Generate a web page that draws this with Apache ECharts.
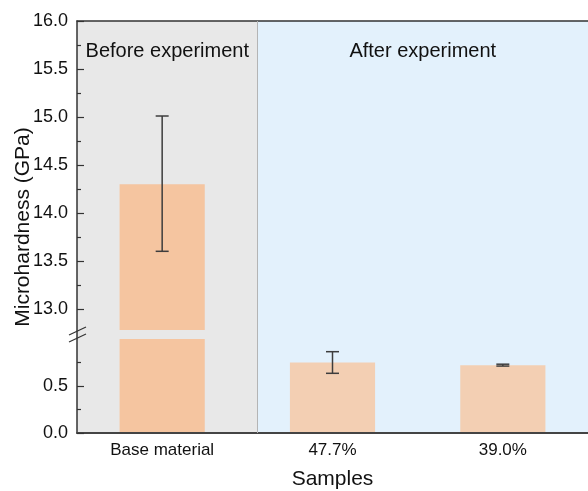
<!DOCTYPE html>
<html>
<head>
<meta charset="utf-8">
<script src="https://cdn.jsdelivr.net/npm/echarts@6/dist/echarts.min.js"></script>
<style>
  html, body { margin: 0; padding: 0; background: #fff; }
  #main { width: 588px; height: 491px; }
</style>
</head>
<body>
<div id="main"></div>
<script>
// data
var categories = ['Base material', '47.7%', '39.0%'];
var hardness = [14.3, 0.75, 0.72];
var errLow = [13.6, 0.635, 0.712];
var errHigh = [15.01, 0.865, 0.732];
var upperTicks = [13.0, 13.5, 14.0, 14.5, 15.0, 15.5, 16.0];
var upperMinor = [13.25, 13.75, 14.25, 14.75, 15.25, 15.75];
var lowerTicks = [0.0, 0.5];
var lowerMinor = [0.25, 0.75];
var regionNames = ['Before experiment', 'After experiment'];
var regionSplit = 0.56; // divider, in category units

var upperMin = 12.78, upperMax = 16.0;
var lowerMin = 0, lowerMax = 1.0;

var font = 'Liberation Sans, Arial, sans-serif';
var axisColor = '#333';
var textColor = '#111';

var chart = echarts.init(document.getElementById('main'));

function errRender(params, api) {
  var x = api.value(0);
  var lo = api.coord([x, api.value(1)]);
  var hi = api.coord([x, api.value(2)]);
  var w = 6.5;
  var st = { stroke: '#3d3d3d', lineWidth: 1.5 };
  return {
    type: 'group',
    children: [
      { type: 'line', shape: { x1: lo[0], y1: lo[1], x2: hi[0], y2: hi[1] }, style: st },
      { type: 'line', shape: { x1: lo[0] - w, y1: lo[1], x2: lo[0] + w, y2: lo[1] }, style: st },
      { type: 'line', shape: { x1: hi[0] - w, y1: hi[1], x2: hi[0] + w, y2: hi[1] }, style: st }
    ]
  };
}

var barColors = ['#f5c5a0', '#f3cfb3', '#f3cfb3'];

var upperBars = [], lowerBars = [], upperErr = [], lowerErr = [];
for (var i = 0; i < categories.length; i++) {
  var item = { value: hardness[i], itemStyle: { color: barColors[i] } };
  upperBars.push(hardness[i] >= upperMin ? item : '-');
  lowerBars.push(item);
  if (errLow[i] >= upperMin) upperErr.push([i, errLow[i], errHigh[i]]);
  else lowerErr.push([i, errLow[i], errHigh[i]]);
}

function tickAxis(grid, min, max, ticks, len, labels) {
  return {
    type: 'value', gridIndex: grid, min: min, max: max, z: 4, position: 'left',
    axisLine: { show: false, onZero: false },
    splitLine: { show: false },
    axisTick: { show: true, inside: true, length: len, customValues: ticks,
      lineStyle: { color: axisColor, width: 1.2 } },
    axisLabel: labels ? { show: true, customValues: ticks, margin: 9, fontSize: 18,
      color: textColor, fontFamily: font,
      formatter: function (v) { return v.toFixed(1); } } : { show: false }
  };
}

chart.setOption({
  animation: false,
  grid: [
    { left: 77, right: 0, top: 21, bottom: 58 },
    { left: 77, right: 0, top: 21, height: 309 },
    { left: 77, right: 0, top: 339, bottom: 58 }
  ],
  xAxis: [
    { type: 'value', gridIndex: 0, min: -0.5, max: 2.5, position: 'top', z: 4,
      axisLine: { show: true, onZero: false, lineStyle: { color: axisColor, width: 1.5 } },
      axisTick: { show: false }, axisLabel: { show: false }, splitLine: { show: false } },
    { type: 'category', gridIndex: 1, data: categories, show: false },
    { type: 'category', gridIndex: 2, data: categories, z: 4,
      axisLine: { show: true, onZero: false, lineStyle: { color: '#444', width: 2 } },
      axisTick: { show: false },
      axisLabel: { fontSize: 17, color: textColor, margin: 9, fontFamily: font },
      name: 'Samples', nameLocation: 'middle', nameGap: 36,
      nameTextStyle: { fontSize: 21, color: textColor, fontFamily: font } }
  ],
  yAxis: [
    { type: 'value', gridIndex: 0, min: 0, max: 1, z: 4, position: 'left',
      axisLine: { show: true, onZero: false, lineStyle: { color: axisColor, width: 1.5 } },
      axisTick: { show: false }, axisLabel: { show: false }, splitLine: { show: false },
      name: 'Microhardness (GPa)', nameLocation: 'middle', nameGap: 43,
      nameTextStyle: { fontSize: 21, color: textColor, fontFamily: font } },
    tickAxis(1, upperMin, upperMax, upperTicks, 7, true),
    tickAxis(1, upperMin, upperMax, upperMinor, 4, false),
    tickAxis(2, lowerMin, lowerMax, lowerTicks, 7, true),
    tickAxis(2, lowerMin, lowerMax, lowerMinor, 4, false)
  ],
  series: [
    {
      type: 'scatter', xAxisIndex: 0, yAxisIndex: 0, data: [], z: 0, silent: true,
      markArea: {
        silent: true,
        label: { position: 'insideTop', distance: 20, fontSize: 20, color: textColor, fontFamily: font },
        data: [
          [{ name: regionNames[0], xAxis: -0.5, itemStyle: { color: '#e8e8e8' } }, { xAxis: regionSplit }],
          [{ name: regionNames[1], xAxis: regionSplit, itemStyle: { color: '#e3f1fc' } }, { xAxis: 2.5 }]
        ]
      },
      markLine: {
        silent: true, symbol: 'none', label: { show: false },
        lineStyle: { color: '#b4b4b4', width: 1, type: 'solid' },
        data: [{ xAxis: regionSplit }]
      }
    },
    { type: 'bar', xAxisIndex: 1, yAxisIndex: 1, data: upperBars, barWidth: '50%', z: 2 },
    { type: 'bar', xAxisIndex: 2, yAxisIndex: 3, data: lowerBars, barWidth: '50%', z: 2 },
    { type: 'custom', xAxisIndex: 1, yAxisIndex: 1, data: upperErr, renderItem: errRender, z: 3 },
    { type: 'custom', xAxisIndex: 2, yAxisIndex: 3, data: lowerErr, renderItem: errRender, z: 3 }
  ],
  graphic: [
    { type: 'line', z: 10, shape: { x1: 69, y1: 335, x2: 86, y2: 327 }, style: { stroke: '#333', lineWidth: 1.3 } },
    { type: 'line', z: 10, shape: { x1: 69, y1: 342, x2: 86, y2: 334 }, style: { stroke: '#333', lineWidth: 1.3 } }
  ]
});
</script>
</body>
</html>
